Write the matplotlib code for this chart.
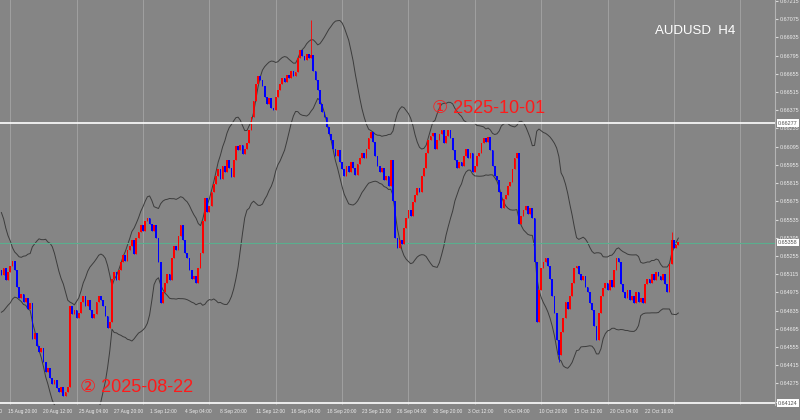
import numpy as np
import pandas as pd
import matplotlib
matplotlib.use("Agg")
import matplotlib.pyplot as plt
import matplotlib.transforms as mtransforms

# AUDUSD H4 closes; the first 20 are only there to seed the bands
lead_in = [0.6559, 0.6553, 0.6558, 0.6549, 0.6541, 0.6544, 0.6533, 0.6524, 0.6527, 0.6515,
           0.6504, 0.6496, 0.6501, 0.6495, 0.6499, 0.6507, 0.6513, 0.6510, 0.6516, 0.6515]

closes = [
    0.6511, 0.6516, 0.6507, 0.6513, 0.6518, 0.6522, 0.6515, 0.6502, 0.6493, 0.6496,
    0.6490, 0.6493, 0.6485, 0.6489, 0.6462, 0.6466, 0.6456, 0.6452, 0.6455, 0.6444,
    0.6436, 0.6439, 0.6432, 0.6427, 0.6430, 0.6424, 0.6421, 0.6425, 0.6418, 0.6421,
    0.6425, 0.6487, 0.6481, 0.6484, 0.6478, 0.6482, 0.6490, 0.6495, 0.6487, 0.6492,
    0.6484, 0.6478, 0.6481, 0.6490, 0.6495, 0.6492, 0.6487, 0.6479, 0.6470, 0.6475,
    0.6508, 0.6513, 0.6507, 0.6515, 0.6521, 0.6526, 0.6522, 0.6530, 0.6533, 0.6538,
    0.6527, 0.6539, 0.6544, 0.6549, 0.6545, 0.6552, 0.6555, 0.6550, 0.6545, 0.6549,
    0.6539, 0.6521, 0.6489, 0.6498, 0.6505, 0.6512, 0.6507, 0.6524, 0.6533, 0.6530,
    0.6541, 0.6549, 0.6538, 0.6528, 0.6524, 0.6515, 0.6508, 0.6510, 0.6505, 0.6516,
    0.6528, 0.6552, 0.6570, 0.6559, 0.6564, 0.6575, 0.6581, 0.6587, 0.6592, 0.6585,
    0.6595, 0.6590, 0.6599, 0.6593, 0.6586, 0.6599, 0.6610, 0.6607, 0.6611, 0.6604,
    0.6608, 0.6612, 0.6622, 0.6632, 0.6645, 0.6658, 0.6664, 0.6661, 0.6656, 0.6648,
    0.6642, 0.6647, 0.6639, 0.6638, 0.6648, 0.6653, 0.6658, 0.6662, 0.6659, 0.6665,
    0.6662, 0.6668, 0.6664, 0.6667, 0.6678, 0.6684, 0.6679, 0.6676, 0.6681, 0.6678,
    0.6680, 0.6668, 0.6661, 0.6653, 0.6642, 0.6636, 0.6632, 0.6625, 0.6619, 0.6615,
    0.6608, 0.6602, 0.6607, 0.6598, 0.6592, 0.6587, 0.6595, 0.6590, 0.6598, 0.6593,
    0.6588, 0.6596, 0.6601, 0.6605, 0.6601, 0.6608, 0.6616, 0.6621, 0.6613, 0.6602,
    0.6595, 0.6590, 0.6593, 0.6584, 0.6587, 0.6579, 0.6599, 0.6568, 0.6539, 0.6532,
    0.6538, 0.6535, 0.6547, 0.6555, 0.6561, 0.6556, 0.6567, 0.6572, 0.6578, 0.6575,
    0.6587, 0.6593, 0.6605, 0.6615, 0.6618, 0.6620, 0.6608, 0.6615, 0.6619, 0.6622,
    0.6612, 0.6618, 0.6622, 0.6616, 0.6607, 0.6599, 0.6593, 0.6598, 0.6595, 0.6602,
    0.6608, 0.6601, 0.6605, 0.6590, 0.6595, 0.6602, 0.6605, 0.6612, 0.6616, 0.6613,
    0.6617, 0.6607, 0.6595, 0.6587, 0.6584, 0.6575, 0.6562, 0.6569, 0.6572, 0.6579,
    0.6582, 0.6592, 0.6601, 0.6605, 0.6550, 0.6556, 0.6561, 0.6564, 0.6558, 0.6562,
    0.6555, 0.6521, 0.6475, 0.6499, 0.6516, 0.6521, 0.6524, 0.6518, 0.6508, 0.6495,
    0.6482, 0.6461, 0.6449, 0.6467, 0.6478, 0.6490, 0.6485, 0.6495, 0.6505, 0.6516,
    0.6518, 0.6512, 0.6507, 0.6510, 0.6502, 0.6498, 0.6489, 0.6484, 0.6472, 0.6461,
    0.6482, 0.6495, 0.6501, 0.6505, 0.6499, 0.6507, 0.6502, 0.6515, 0.6524, 0.6521,
    0.6504, 0.6498, 0.6493, 0.6499, 0.6492, 0.6495, 0.6489, 0.6498, 0.6490, 0.6493,
    0.6489, 0.6504, 0.6508, 0.6505, 0.6512, 0.6507, 0.6513, 0.6510, 0.6507, 0.6512,
    0.6504, 0.6498, 0.6519, 0.6538, 0.6532, 0.6534, 0.6536,
]

# a few wicks that stick out clearly
spike_high = {140: 0.6707, 303: 0.6544}
spike_low = {252: 0.6444}

time_ticks = [-13, 3, 19, 35, 51, 67, 83, 99, 115, 131, 147, 163, 179, 195, 211, 227, 243, 259, 275, 291]
time_labels = ["13 Aug 04:00", "15 Aug 20:00", "20 Aug 12:00", "25 Aug 04:00", "27 Aug 20:00",
               "1 Sep 12:00", "4 Sep 04:00", "8 Sep 20:00", "11 Sep 12:00", "16 Sep 04:00",
               "18 Sep 20:00", "23 Sep 12:00", "26 Sep 04:00", "30 Sep 20:00", "3 Oct 12:00",
               "8 Oct 04:00", "10 Oct 20:00", "15 Oct 12:00", "20 Oct 04:00", "22 Oct 16:00"]
week_starts = [4, 34, 64, 94, 124, 154, 184, 214, 244, 274, 304, 334]
price_ticks = [0.67215 - 0.0014 * k for k in range(23)]

level_price = 0.66277
bid_price = 0.65358
bottom_price = 0.64124

bg = "#858585"
small = "Liberation Sans"
fig = plt.figure(figsize=(8, 4.2), dpi=100, facecolor=bg)
ax = fig.add_axes([0, 15 / 420, 775 / 800, 405 / 420], facecolor=bg)

x = np.arange(len(closes))
c = np.array(closes)
o = np.r_[lead_in[-1], c[:-1]]
hi = np.maximum(o, c)
lo = np.minimum(o, c)
for k, v in spike_high.items():
    hi[k] = v
for k, v in spike_low.items():
    lo[k] = v
cols = np.where(c >= o, "#ff0000", "#0000ff")

# bollinger bands 20, 2
s = pd.Series(lead_in + closes)
mid = s.rolling(20).mean()
sd = s.rolling(20).std(ddof=0)
upper = (mid + 2 * sd).values[len(lead_in):]
lower = (mid - 2 * sd).values[len(lead_in):]

for w in week_starts:
    ax.axvline(w, color="#a0a0a0", lw=0.7, zorder=1)

ax.plot(x, upper, color="#3c3c3c", lw=0.7, zorder=2)
ax.plot(x, lower, color="#3c3c3c", lw=0.7, zorder=2)

ax.vlines(x, lo, hi, colors=cols, lw=0.6, zorder=3)
ax.bar(x, c - o, bottom=o, width=0.78, color=cols, linewidth=0, zorder=3)

ax.axhline(level_price, color="white", lw=1.2, zorder=4)
ax.axhline(bid_price, color="#5aae8e", lw=0.8, zorder=2)
ax.axhline(bottom_price, color="white", lw=1.2, zorder=4)

ax.set_xlim(-0.63, 349.7)
ax.set_ylim(0.64109, 0.67223)
ax.set_xticks([])
ax.yaxis.tick_right()
ax.set_yticks(price_ticks)
ax.set_yticklabels([f"{p:.5f}" for p in price_ticks], family=small)
ax.tick_params(axis="y", colors="#d8d8d8", labelsize=3.9, length=2, pad=1.2, labelcolor="#ececec")
for name, sp in ax.spines.items():
    sp.set_visible(name == "right")
ax.spines["right"].set_color("#b4b4b4")
ax.spines["right"].set_linewidth(0.8)

# boxed price markers on the scale
yt = mtransforms.blended_transform_factory(ax.transAxes, ax.transData)
for p in [level_price, bid_price, bottom_price]:
    ax.text(1.004, p, f"{p:.5f}", transform=yt, fontsize=3.9, family=small, color="#505050",
            va="center", ha="left", bbox=dict(boxstyle="square,pad=0.2", fc="white", ec="none"),
            clip_on=False, zorder=6)

# time scale
xt = mtransforms.blended_transform_factory(ax.transData, ax.transAxes)
for t, lab in zip(time_ticks, time_labels):
    ax.text(t, -0.01, lab, transform=xt, fontsize=3.5, family=small, color="#ececec",
            ha="left", va="top", clip_on=False)

fam = ["Liberation Sans", "DejaVu Sans", "Noto Sans CJK JP"]
ax.text(194.7, 0.6639, "\u2460 2525-10-01", color="#ff1a1a", fontsize=13, family=fam, va="center", ha="left", zorder=5)
ax.text(35.5, 0.6424, "\u2461 2025-08-22", color="#ff1a1a", fontsize=13, family=fam, va="center", ha="left", zorder=5)
ax.text(655 / 775, 1 - 31 / 405, "AUDUSD  H4", transform=ax.transAxes, color="white", fontsize=9.5,
        family=fam, va="center", ha="left")

fig.savefig("out.png", dpi=100, facecolor=bg)
